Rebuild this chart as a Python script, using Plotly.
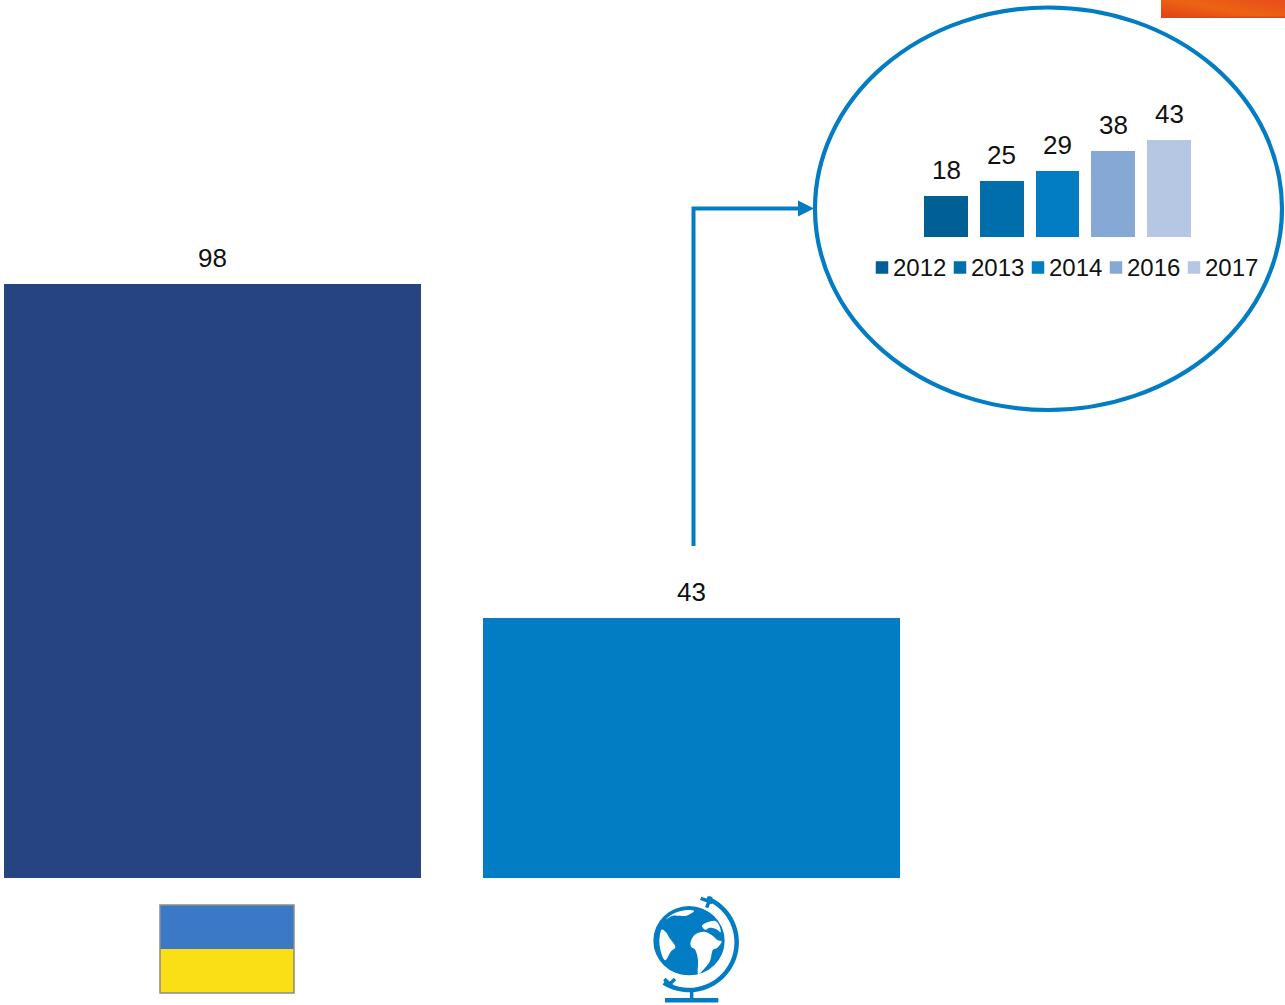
import base64
import numpy as np
import plotly.graph_objects as go

# Main comparison
regions = ["Ukraine", "World"]
region_values = [98, 43]
region_colors = ["#264382", "#027DC3"]

# World trend shown in the callout
years = ["2012", "2013", "2014", "2016", "2017"]
year_values = [18, 25, 29, 38, 43]
year_colors = ["#005F94", "#006EAB", "#027DC3", "#86A8D4", "#B5C7E2"]

W, H = 1285, 1005
FONT = "Liberation Sans, Arial, sans-serif"
BLUE = "#027DC3"
INK = "#111111"

fig = go.Figure()

# Large bars: 6.06 px per unit, category pitch 479 px
fig.add_trace(go.Bar(x=regions, y=region_values, width=0.8706,
                     marker=dict(color=region_colors, line_width=0),
                     xaxis="x", yaxis="y", hoverinfo="x+y"))

# Callout bars
fig.add_trace(go.Bar(x=years, y=year_values, width=0.789,
                     marker=dict(color=year_colors, line_width=0),
                     xaxis="x2", yaxis="y2", hoverinfo="x+y"))

# Hand-placed legend swatches under the callout bars
fig.add_trace(go.Scatter(x=list(range(len(years))), y=[0] * len(years),
                         mode="markers",
                         marker=dict(symbol="square", size=12.5, color=year_colors, line_width=0),
                         xaxis="x3", yaxis="y3", hoverinfo="skip", cliponaxis=False))

hidden = dict(visible=False, fixedrange=True)
px_x = lambda a, b: [a / W, b / W]
px_y = lambda a, b: [1 - b / H, 1 - a / H]

layout_axes = dict(
    xaxis=dict(hidden, type="category", categoryorder="array", categoryarray=regions,
               domain=[0, 1], range=[-212.5 / 479, (W - 212.5) / 479]),
    yaxis=dict(hidden, domain=[0, 1], range=[-(H - 878.3) / 6.06, 878.3 / 6.06]),
    xaxis2=dict(hidden, type="category", categoryorder="array", categoryarray=years,
                anchor="y2", domain=px_x(890, 1225),
                range=[(890 - 946) / 55.75, (1225 - 946) / 55.75]),
    yaxis2=dict(hidden, anchor="x2", domain=px_y(100, 237), range=[0, 137 / 2.26]),
    xaxis3=dict(hidden, anchor="y3", domain=[0, 1], range=[-882 / 78, (W - 882) / 78]),
    yaxis3=dict(hidden, anchor="x3", domain=[0, 1], range=[-(H - 267.5), 267.5]),
    xaxis4=dict(hidden, anchor="y4", domain=[0, 1], range=[0, W]),
    yaxis4=dict(hidden, anchor="x4", domain=[0, 1], range=[H, 0]),
)


def poly(points, close=True):
    body = "L".join(f"{x:.2f},{y:.2f}" for x, y in points)
    return "M" + body + ("Z" if close else "")


def smooth(points):
    """Closed Catmull-Rom outline for the continent blobs."""
    pts = np.array(points, float)
    n = len(pts)
    d = f"M{pts[0][0]:.2f},{pts[0][1]:.2f}"
    for i in range(n):
        p0, p1, p2, p3 = pts[i - 1], pts[i], pts[(i + 1) % n], pts[(i + 2) % n]
        c1 = p1 + (p2 - p0) / 6
        c2 = p2 - (p3 - p1) / 6
        d += f"C{c1[0]:.2f},{c1[1]:.2f} {c2[0]:.2f},{c2[1]:.2f} {p2[0]:.2f},{p2[1]:.2f}"
    return d + "Z"


def arc(cx, cy, r, a0, a1, n=40):
    t = np.radians(np.linspace(a0, a1, n))
    return list(zip(cx + r * np.cos(t), cy + r * np.sin(t)))


def overlay(**kw):
    return dict(xref="x4", yref="y4", layer="above", **kw)


shapes = []

# Callout ellipse
shapes.append(overlay(type="circle", x0=815, x1=1282, y0=7.5, y1=410,
                      line=dict(color=BLUE, width=4.2), fillcolor="rgba(0,0,0,0)"))

# Connector from the World bar to the callout
shapes.append(overlay(type="path", path=poly([(693.5, 546), (693.5, 208.5), (802, 208.5)], close=False),
                      line=dict(color=BLUE, width=4), fillcolor="rgba(0,0,0,0)"))
shapes.append(overlay(type="path", path=poly([(798, 200.5), (814, 208.5), (798, 216.5)]),
                      line_width=0, fillcolor=BLUE))

# Ukrainian flag
shapes.append(overlay(type="rect", x0=160, x1=294, y0=905, y1=949, line_width=0, fillcolor="#3B78C6"))
shapes.append(overlay(type="rect", x0=160, x1=294, y0=949, y1=993, line_width=0, fillcolor="#FBDF16"))
shapes.append(overlay(type="rect", x0=160, x1=294, y0=905, y1=993,
                      line=dict(color="#8F8A88", width=1.5), fillcolor="rgba(0,0,0,0)"))

# Globe icon: positions in the icon's own 3x grid, offset to its place on the page
gx = lambda z: 630 + z / 3
gy = lambda z: 885 + z / 3
g = lambda pts: [(gx(x), gy(y)) for x, y in pts]
shapes.append(overlay(type="circle", x0=gx(70), x1=gx(284), y0=gy(63), y1=gy(271),
                      line_width=0, fillcolor=BLUE))
shapes.append(overlay(type="path",
                      path=poly(g(arc(177, 172, 143, -68, 122)), close=False),
                      line=dict(color=BLUE, width=4.5), fillcolor="rgba(0,0,0,0)"))
for seg in ([(212, 40), (248, 53)], [(230, 68), (243, 35)], [(103, 282), (133, 310)], [(113, 303), (135, 282)]):
    shapes.append(overlay(type="path", path=poly(g(seg), close=False),
                          line=dict(color=BLUE, width=3.5), fillcolor="rgba(0,0,0,0)"))
shapes.append(overlay(type="path", path=poly(g([(185, 312), (185, 345)]), close=False),
                      line=dict(color=BLUE, width=3.5), fillcolor="rgba(0,0,0,0)"))
shapes.append(overlay(type="path", path=poly(g([(105, 346), (265, 346)]), close=False),
                      line=dict(color=BLUE, width=4.5), fillcolor="rgba(0,0,0,0)"))

continents = [
    # west
    [(94, 135), (108, 142), (118, 158), (136, 185), (122, 200), (106, 226), (94, 205), (88, 170)],
    # africa
    [(182, 170), (196, 148), (222, 140), (245, 150), (262, 165), (275, 170), (262, 188), (248, 196),
     (240, 228), (222, 252), (204, 266), (204, 225), (196, 195), (184, 186)],
    # eurasia top
    [(216, 122), (232, 112), (256, 108), (268, 122), (272, 142), (258, 132), (240, 128), (226, 134)],
    # arctic strip
    [(108, 103), (130, 86), (165, 76), (192, 78), (170, 92), (150, 92), (128, 92)],
]
for c in continents:
    shapes.append(overlay(type="path", path=smooth(g(c)), line_width=0, fillcolor="#FFFFFF"))

# Orange header tab, clipped by the top edge of the page
tab_svg = (
    '<svg xmlns="http://www.w3.org/2000/svg" width="124" height="18" preserveAspectRatio="none">'
    '<defs><linearGradient id="g" x1="0" y1="1" x2="1" y2="0.2">'
    '<stop offset="0" stop-color="#E23F16"/><stop offset="0.55" stop-color="#EC6413"/>'
    '<stop offset="1" stop-color="#E8501A"/></linearGradient></defs>'
    '<rect width="124" height="18" fill="url(#g)"/>'
    '<rect y="16.5" width="124" height="1.5" fill="#DE4426"/></svg>'
)
tab_src = "data:image/svg+xml;base64," + base64.b64encode(tab_svg.encode()).decode()
images = [dict(source=tab_src, xref="x4", yref="y4", x=1161, y=0, sizex=124, sizey=18,
               xanchor="left", yanchor="top", sizing="stretch", layer="above")]

# Value labels sit well clear of their bars
annotations = []
for i, val in enumerate(region_values):
    annotations.append(dict(x=i, y=val, xref="x", yref="y", text=str(val), showarrow=False,
                            yanchor="bottom", yshift=9, font=dict(family=FONT, size=26, color=INK)))
# Years look numeric, so their labels are placed by category index
for i, val in enumerate(year_values):
    annotations.append(dict(x=i, y=val, xref="x2", yref="y2", text=str(val), showarrow=False,
                            yanchor="bottom", yshift=9, font=dict(family=FONT, size=26, color=INK)))
for i, year in enumerate(years):
    annotations.append(dict(x=i, y=0, xref="x3", yref="y3", text=year, showarrow=False,
                            xanchor="left", yanchor="middle", xshift=9, yshift=0,
                            font=dict(family=FONT, size=24, color=INK)))

# Subplots overlap, so every plot area stays transparent
fig.update_layout(width=W, height=H, margin=dict(l=0, r=0, t=0, b=0), autosize=False,
                  paper_bgcolor="#FFFFFF", plot_bgcolor="rgba(0,0,0,0)", showlegend=False,
                  bargap=0, shapes=shapes, images=images, annotations=annotations,
                  **layout_axes)

fig.write_html("out.html", config=dict(displayModeBar=False))
